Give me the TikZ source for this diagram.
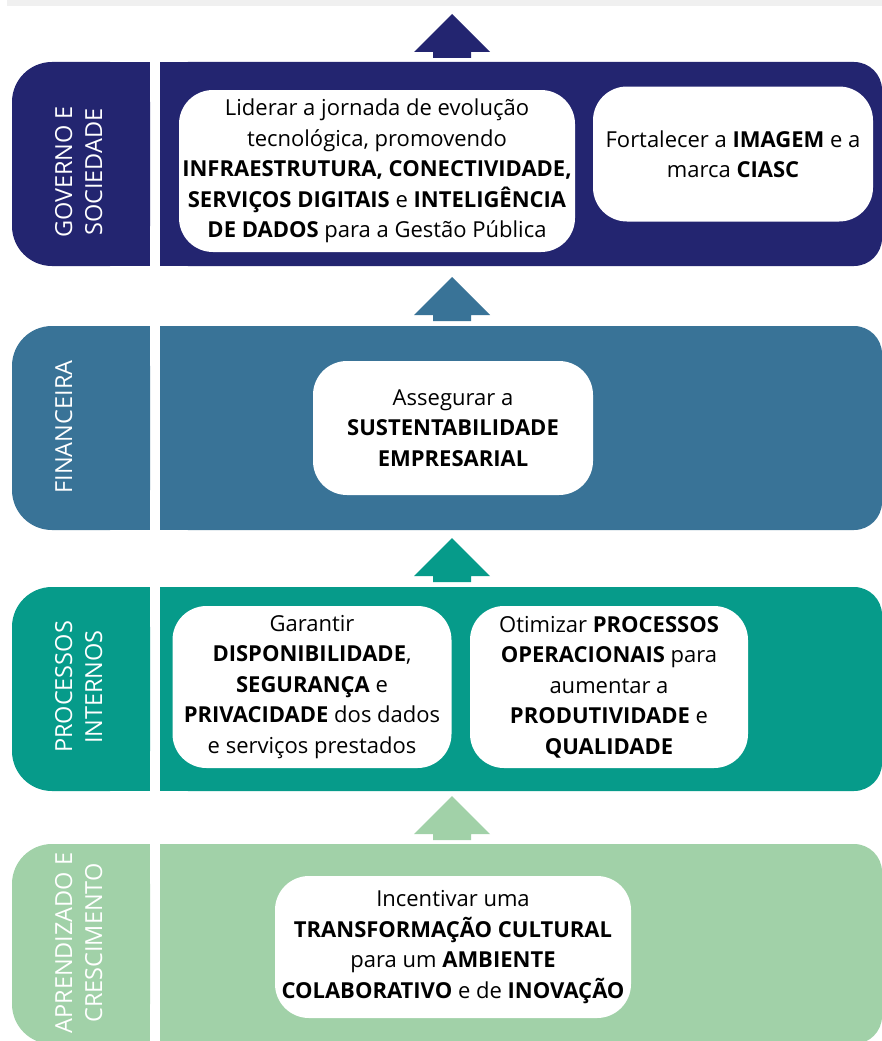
\documentclass[tikz,border=0pt]{standalone}
\usepackage{fontspec}
\setmainfont{Open Sans}
\definecolor{navy}{RGB}{35,37,112}
\definecolor{steel}{RGB}{57,115,151}
\definecolor{teal}{RGB}{6,155,138}
\definecolor{mint}{RGB}{161,209,168}
\definecolor{stripgray}{RGB}{240,240,240}
\tikzset{
	goal/.style={fill=white, rounded corners=34pt, align=center, inner sep=0pt,
		font=\fontsize{22}{30.5}\selectfont},
	side/.style={rotate=90, anchor=north, align=center, inner sep=0pt, text=white,
		font=\fontsize{23.5}{30}\selectfont}
}
\begin{document}
\begin{tikzpicture}[x=1pt, y=-1pt]
		\clip (0,0) rectangle (882,1041);
		\fill[white] (0,0) rectangle (882,1041);
		\fill[stripgray] (7,0) rectangle (882,6);
		% bands
		\foreach \t/\b/\c in {62/266/navy, 326/530/steel, 587/791/teal, 844/1044/mint}
		{
			\fill[\c, rounded corners=40pt] (12,\t) rectangle (150,\b);
			\fill[\c] (100,\t) rectangle (150,\b);
			\fill[\c, rounded corners=28pt] (160,\t) rectangle (882,\b);
			\fill[\c] (160,\t) rectangle (300,\b);
		}
		% arrows
		\foreach \y/\c in {14/navy, 277/steel, 538/teal, 796/mint}
		{
			\fill[\c] (452,\y) -- ++(38,38) -- ++(-19,0) -- ++(0,6) -- ++(-38,0) -- ++(0,-6) -- ++(-19,0) -- cycle;
		}
		% perspectives
		\node (gov)[side] at (55,172) {GOVERNO E\\SOCIEDADE};
		\node (fin)[side] at (55,427) {FINANCEIRA};
		\node (proc)[side] at (55,687) {PROCESSOS\\INTERNOS};
		\node (apr)[side] at (55,943) {APRENDIZADO E\\CRESCIMENTO};
		% objectives
		\node (lider)[goal, minimum width=396pt, minimum height=162pt] at (377,171)
			{Liderar a jornada de evolução\\tecnológica, promovendo\\\textbf{INFRAESTRUTURA, CONECTIVIDADE,}\\\textbf{SERVIÇOS DIGITAIS} e \textbf{INTELIGÊNCIA}\\\textbf{DE DADOS} para a Gestão Pública};
		\node (imagem)[goal, minimum width=280pt, minimum height=135pt] at (733,154)
			{Fortalecer a \textbf{IMAGEM} e a\\marca \textbf{CIASC}};
		\node (sust)[goal, minimum width=280pt, minimum height=134pt] at (453,428)
			{Assegurar a\\\textbf{SUSTENTABILIDADE}\\\textbf{EMPRESARIAL}};
		\node (disp)[goal, minimum width=279pt, minimum height=162pt] at (312,687)
			{Garantir\\\textbf{DISPONIBILIDADE},\\\textbf{SEGURANÇA} e\\\textbf{PRIVACIDADE} dos dados\\e serviços prestados};
		\node (otim)[goal, minimum width=278pt, minimum height=162pt] at (609,687)
			{Otimizar \textbf{PROCESSOS}\\\textbf{OPERACIONAIS} para\\aumentar a\\\textbf{PRODUTIVIDADE} e\\\textbf{QUALIDADE}};
		\node (cult)[goal, minimum width=356pt, minimum height=142pt] at (453,947)
			{Incentivar uma\\\textbf{TRANSFORMAÇÃO CULTURAL}\\para um \textbf{AMBIENTE}\\\textbf{COLABORATIVO} e de \textbf{INOVAÇÃO}};
	\end{tikzpicture}
\end{document}
